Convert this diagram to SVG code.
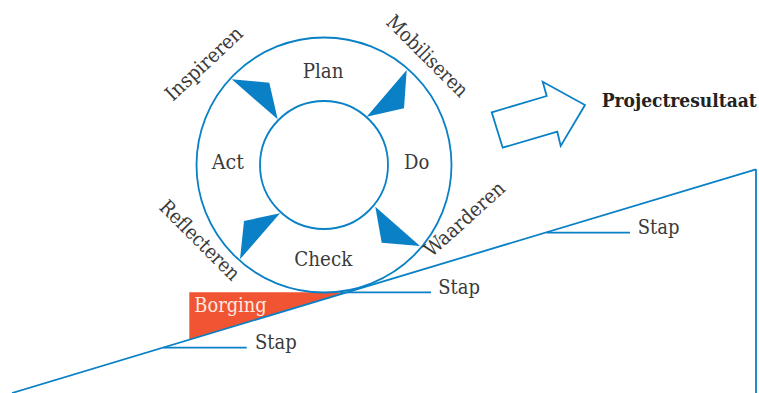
<svg xmlns="http://www.w3.org/2000/svg" width="759" height="393" viewBox="0 0 759 393">
<style>
.ln{fill:none;stroke:#0a80c6;stroke-width:1.8}
.wedge{fill:#0a80c6;stroke:none}
.lbl{font-family:"DejaVu Serif Condensed","DejaVu Serif","Liberation Serif",serif;font-stretch:condensed;font-size:20px;fill:#3a3a3a}
.bold{font-family:"DejaVu Serif Condensed","DejaVu Serif","Liberation Serif",serif;font-stretch:condensed;font-size:18.5px;font-weight:bold;fill:#222}
</style>
<rect width="759" height="393" fill="#ffffff"/>
<g id="borging">
<polygon points="189.3,292.3 347,292.3 189.3,340" fill="#f05432"/>
<text x="194.3" y="311.7" class="lbl" style="fill:#fde8e0" textLength="72.4" lengthAdjust="spacingAndGlyphs">Borging</text>
</g>
<g id="connectors">
<line class="ln" x1="12" y1="393" x2="756" y2="169.3"/>
<line class="ln" x1="756" y1="169.3" x2="756" y2="393"/>
<line class="ln" x1="163.3" y1="347.7" x2="246.7" y2="347.7"/>
<line class="ln" x1="340" y1="292.3" x2="431" y2="292.3"/>
<line class="ln" x1="546.7" y1="232.7" x2="630" y2="232.7"/>
</g>
<g id="cycle">
<circle class="ln" cx="324" cy="165" r="127.5"/>
<circle class="ln" cx="324" cy="165" r="64"/>
<polygon class="wedge" points="231.7,79.3 269.3,82.7 277.7,119.3"/>
<polygon class="wedge" points="406.7,70 404,108.3 366.7,116.7"/>
<polygon class="wedge" points="375.3,206.7 381.7,242.7 420,246"/>
<polygon class="wedge" points="280,213.3 244,221 240,259.3"/>
</g>
<g id="phases">
<text class="lbl" x="302.7" y="78.3" textLength="40.7" lengthAdjust="spacingAndGlyphs">Plan</text>
<text class="lbl" x="211.7" y="169" textLength="32.3" lengthAdjust="spacingAndGlyphs">Act</text>
<text class="lbl" x="404" y="169" textLength="25.3" lengthAdjust="spacingAndGlyphs">Do</text>
<text class="lbl" x="294.3" y="265.7" textLength="58" lengthAdjust="spacingAndGlyphs">Check</text>
</g>
<g id="actions">
<text class="lbl" transform="translate(208.5,68.5) rotate(-43)" x="-49" y="0" textLength="98" lengthAdjust="spacingAndGlyphs">Inspireren</text>
<text class="lbl" transform="translate(422.5,60.8) rotate(45)" x="-53" y="0" textLength="106" lengthAdjust="spacingAndGlyphs">Mobiliseren</text>
<text class="lbl" transform="translate(195,245) rotate(45)" x="-52" y="0" textLength="104" lengthAdjust="spacingAndGlyphs">Reflecteren</text>
<text class="lbl" transform="translate(469,224) rotate(-42)" x="-50.5" y="0" textLength="101" lengthAdjust="spacingAndGlyphs">Waarderen</text>
</g>
<g id="steps">
<text class="lbl" x="255" y="348.5" textLength="41.7" lengthAdjust="spacingAndGlyphs">Stap</text>
<text class="lbl" x="438.3" y="293.5" textLength="41.7" lengthAdjust="spacingAndGlyphs">Stap</text>
<text class="lbl" x="637.7" y="233.5" textLength="41.7" lengthAdjust="spacingAndGlyphs">Stap</text>
</g>
<g id="result">
<polygon class="ln" points="491.7,112.3 546.7,96 542.7,81.7 585,105 560.7,146 557.3,131.7 502.7,147.7" style="fill:#fff"/>
<text class="bold" x="601.7" y="107.3" textLength="155" lengthAdjust="spacingAndGlyphs">Projectresultaat</text>
</g>
</svg>
